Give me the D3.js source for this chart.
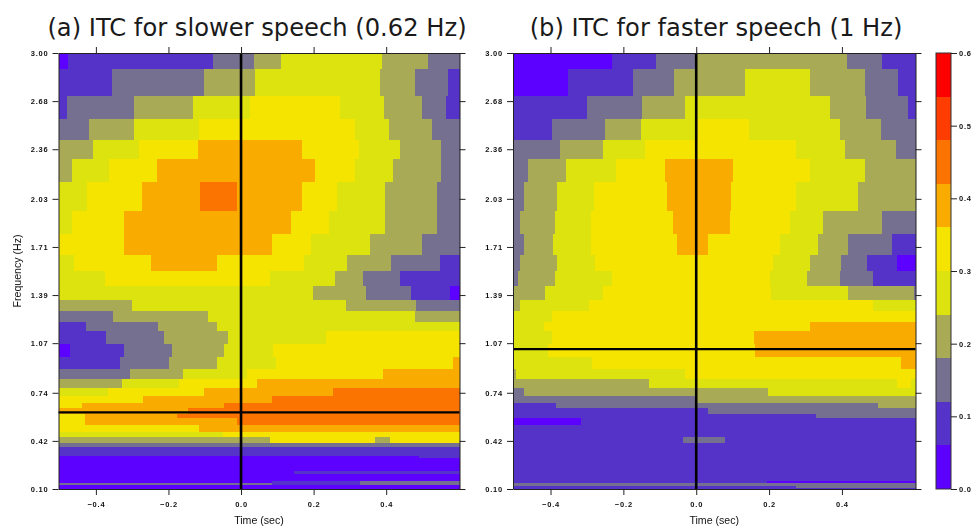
<!DOCTYPE html>
<html>
<head>
<meta charset="utf-8">
<script src="https://cdn.jsdelivr.net/npm/d3@7"></script>
<style>
  html, body { margin: 0; padding: 0; background: #fff; overflow: hidden; }
  .title { font-family: "DejaVu Sans", sans-serif; font-size: 24.2px; fill: #1a1a1a; }
  .axisText { font-family: "Liberation Sans", sans-serif; font-size: 10.6px; fill: #111; }
  .tick text { font-family: "Liberation Sans", sans-serif; font-size: 7.5px; letter-spacing: 0.8px; fill: #111; font-weight: bold; }
  .tick line, .domain { stroke: #222; }
</style>
</head>
<body>
<div id="my_dataviz"></div>
<script>
// ITC bin colours, lowest to highest
const binColors = ["#5c00ff", "#5533c8", "#75708f", "#a8aa55", "#dce30f", "#f5e400", "#f9ab00", "#fb7300", "#ff3d00", "#ff0000"];
const freqTicks = [3.00, 2.68, 2.36, 2.03, 1.71, 1.39, 1.07, 0.74, 0.42, 0.10];
const timeTicks = [-0.4, -0.2, 0, 0.2, 0.4];
const itcTicks = [0, 0.1, 0.2, 0.3, 0.4, 0.5, 0.6];

// Left panel: frequency band edges (Hz), time breaks inside each band (sec), ITC level of each piece
const freqEdgesA = [3.00, 2.896, 2.714, 2.559, 2.422, 2.296, 2.141, 1.948, 1.795, 1.658, 1.549, 1.450, 1.357, 1.284, 1.213, 1.149, 1.064, 0.976, 0.896, 0.830, 0.774, 0.719, 0.672, 0.637, 0.602, 0.573, 0.528, 0.480, 0.444, 0.409, 0.382, 0.320, 0.303, 0.218, 0.201, 0.152, 0.141, 0.125, 0.10];
const timeBreaksA = [
  [-0.476, -0.078, 0.036, 0.110, 0.389, 0.514],
  [-0.356, -0.101, 0.039, 0.382, 0.480, 0.570],
  [-0.480, -0.296, -0.131, 0.024, 0.272, 0.393, 0.498, 0.566],
  [-0.420, -0.296, -0.115, 0.314, 0.408, 0.525],
  [-0.409, -0.281, -0.119, 0.167, 0.325, 0.438, 0.551],
  [-0.465, -0.363, -0.232, 0.204, 0.314, 0.420, 0.551],
  [-0.424, -0.273, -0.112, -0.010, 0.167, 0.265, 0.397, 0.540],
  [-0.465, -0.322, 0.137, 0.243, 0.397, 0.540],
  [-0.322, 0.084, 0.193, 0.354, 0.498],
  [-0.460, -0.247, -0.066, 0.174, 0.291, 0.412, 0.547],
  [-0.374, 0.081, 0.258, 0.337, 0.438],
  [0.197, 0.344, 0.468, 0.577],
  [-0.300, 0.289, 0.483],
  [-0.352, -0.092, 0.480],
  [-0.428, -0.228, -0.066],
  [-0.371, -0.212, -0.037, 0.235],
  [-0.470, -0.322, -0.190, -0.047, 0.088],
  [-0.333, -0.198, -0.067, 0.095, 0.584],
  [-0.307, -0.160, 0.016, 0.392],
  [-0.327, -0.172, 0.043],
  [-0.367, -0.103, 0.254],
  [-0.269, 0.084],
  [-0.438, -0.047],
  [-0.146],
  [-0.431, -0.177],
  [-0.431, -0.010],
  [-0.115],
  [-0.050],
  [0.081, 0.370, 0.411],
  [],
  [],
  [0.491],
  [],
  [0.147],
  [],
  [0.085, 0.329],
  [0.085, 0.329],
  []
];
const levelsA = [
  [.03, .09, .15, .21, .27, .21, .15],
  [.09, .15, .21, .27, .21, .15, .09],
  [.09, .15, .21, .27, .33, .27, .21, .15, .09],
  [.15, .21, .27, .33, .27, .21, .15],
  [.21, .27, .33, .39, .33, .27, .21, .15],
  [.21, .27, .33, .39, .33, .27, .21, .15],
  [.27, .33, .39, .45, .39, .33, .27, .21, .15],
  [.27, .33, .39, .33, .27, .21, .15],
  [.33, .39, .33, .27, .21, .15],
  [.27, .33, .39, .33, .27, .21, .15, .09],
  [.27, .33, .27, .21, .15, .09],
  [.27, .21, .15, .09, .03],
  [.21, .27, .21, .15],
  [.15, .21, .27, .21],
  [.09, .15, .21, .27],
  [.09, .15, .21, .27, .33],
  [.03, .09, .15, .21, .27, .33],
  [.09, .15, .21, .27, .33, .39],
  [.15, .21, .27, .33, .39],
  [.21, .27, .33, .39],
  [.27, .33, .39, .45],
  [.33, .39, .45],
  [.33, .39, .45],
  [.39, .45],
  [.33, .39, .45],
  [.33, .39, .45],
  [.33, .39],
  [.27, .33],
  [.21, .33, .21, .33],
  [.15],
  [.09],
  [.03, .09],
  [.03],
  [.03, .09],
  [.03],
  [.03, .09, .15],
  [.15, .09, .15],
  [.03]
];

// Right panel
const freqEdgesB = [3.00, 2.896, 2.714, 2.559, 2.422, 2.296, 2.141, 1.948, 1.795, 1.658, 1.549, 1.450, 1.357, 1.284, 1.213, 1.149, 1.064, 0.976, 0.896, 0.830, 0.774, 0.719, 0.672, 0.637, 0.602, 0.573, 0.528, 0.444, 0.409, 0.152, 0.143, 0.121, 0.108, 0.10];
const timeBreaksB = [
  [-0.231, -0.110, 0, 0.413, 0.510],
  [-0.353, -0.174, -0.061, 0.135, 0.311, 0.462, 0.553],
  [-0.299, -0.148, -0.032, 0.367, 0.466, 0.582],
  [-0.397, -0.250, -0.151, 0.004, 0.146, 0.394, 0.507],
  [-0.374, -0.256, -0.140, 0.274, 0.409, 0.549],
  [-0.461, -0.358, -0.220, -0.087, 0.101, 0.311, 0.462],
  [-0.474, -0.381, -0.282, -0.080, 0.096, 0.274, 0.443],
  [-0.485, -0.388, -0.288, -0.065, 0.092, 0.258, 0.349, 0.510],
  [-0.474, -0.392, -0.288, -0.053, 0.033, 0.229, 0.334, 0.417, 0.538],
  [-0.483, -0.381, -0.277, 0.210, 0.311, 0.398, 0.469, 0.552],
  [-0.490, -0.389, -0.231, 0.202, 0.304, 0.394, 0.485],
  [-0.415, -0.256, 0.206, 0.417, 0.597],
  [-0.483, -0.295, 0.485],
  [-0.396],
  [-0.418, 0.311],
  [-0.396, 0.158],
  [-0.407, 0.161],
  [-0.287, 0.563],
  [-0.495, -0.031],
  [-0.129, 0.551, 0.590],
  [-0.474, 0.198],
  [0],
  [-0.385, 0.499],
  [0.033],
  [0.330],
  [-0.317],
  [],
  [-0.035, 0.078],
  [],
  [0.194],
  [],
  [0.274],
  []
];
const levelsB = [
  [.03, .09, .15, .21, .15, .09],
  [.03, .09, .15, .21, .27, .21, .15, .09],
  [.09, .15, .21, .27, .21, .15, .09],
  [.09, .15, .21, .27, .33, .27, .21, .15],
  [.15, .21, .27, .33, .27, .21, .15],
  [.15, .21, .27, .33, .39, .33, .27, .21],
  [.15, .21, .27, .33, .39, .33, .27, .21],
  [.15, .21, .27, .33, .39, .33, .27, .21, .15],
  [.15, .21, .27, .33, .39, .33, .27, .21, .15, .09],
  [.15, .21, .27, .33, .27, .21, .15, .09, .03],
  [.15, .21, .27, .33, .27, .21, .15, .09],
  [.21, .27, .33, .27, .21, .15],
  [.21, .27, .33, .27],
  [.27, .33],
  [.27, .33, .39],
  [.27, .33, .39],
  [.27, .33, .39],
  [.27, .33, .39],
  [.21, .27, .33],
  [.21, .27, .33, .27],
  [.15, .21, .27],
  [.15, .21],
  [.09, .15, .21],
  [.09, .15],
  [.09, .15],
  [.03, .09],
  [.09],
  [.09, .15, .09],
  [.09],
  [.09, .03],
  [.15],
  [.09, .15],
  [.09]
];

const lineFreqA = 0.61;
const lineFreqB = 1.03;

const svg = d3.select("#my_dataviz")
    .append("svg")
    .attr("width", 975)
    .attr("height", 529);

const plotTop = 53, plotBottom = 489;
const binColor = d3.scaleQuantize().domain([0, 0.6]).range(binColors);

function drawPanel(left, right, title, titleX, edges, breaks, levels, lineFreq) {
    const x = d3.scaleLinear().domain([-0.503, 0.602]).range([left, right]).clamp(true);
    const y = d3.scaleLinear().domain([0.10, 3.00]).range([plotBottom, plotTop]);

    const cells = [];
    levels.forEach((row, i) => {
        const stops = [-0.503, ...breaks[i], 0.602];
        row.forEach((level, j) => {
            cells.push({ t0: stops[j], t1: stops[j + 1], f0: edges[i], f1: edges[i + 1], level: level });
        });
    });

    const plot = svg.append("g").style("filter", "blur(0.45px)");

    plot.selectAll("rect")
        .data(cells)
        .join("rect")
        .attr("x", d => x(d.t0))
        .attr("y", d => y(d.f0))
        .attr("width", d => x(d.t1) - x(d.t0))
        .attr("height", d => y(d.f1) - y(d.f0))
        .attr("shape-rendering", "crispEdges")
        .attr("fill", d => binColor(d.level));

    // reference lines at stimulus onset and speech rate
    plot.append("line")
        .attr("x1", x(0)).attr("x2", x(0))
        .attr("y1", plotTop).attr("y2", plotBottom)
        .attr("stroke", "#000").attr("stroke-width", 2.6);
    plot.append("line")
        .attr("x1", left).attr("x2", right)
        .attr("y1", y(lineFreq)).attr("y2", y(lineFreq))
        .attr("stroke", "#000").attr("stroke-width", 2.2);

    const axes = svg.append("g").style("filter", "blur(0.35px)");

    axes.append("g")
        .attr("transform", "translate(0," + plotBottom + ")")
        .call(d3.axisBottom(x).tickValues(timeTicks).tickFormat(d3.format(".1f")).tickSize(6).tickSizeOuter(0).tickPadding(7));
    axes.append("g")
        .attr("transform", "translate(0," + plotTop + ")")
        .call(d3.axisTop(x).tickValues(timeTicks).tickFormat("").tickSize(6).tickSizeOuter(0));
    axes.append("g")
        .attr("transform", "translate(" + left + ",0)")
        .call(d3.axisLeft(y).tickValues(freqTicks).tickFormat(d3.format(".2f")).tickSize(6).tickSizeOuter(0).tickPadding(4));
    axes.append("g")
        .attr("transform", "translate(" + right + ",0)")
        .call(d3.axisRight(y).tickValues(freqTicks).tickFormat("").tickSize(6).tickSizeOuter(0));

    axes.append("text")
        .attr("class", "axisText")
        .attr("x", (left + right) / 2)
        .attr("y", 524)
        .style("text-anchor", "middle")
        .text("Time (sec)");

    svg.append("text")
        .attr("class", "title")
        .attr("x", titleX)
        .attr("y", 36)
        .style("text-anchor", "middle")
        .text(title);
}

drawPanel(58.5, 459.5, "(a)  ITC for slower speech (0.62 Hz)", 257, freqEdgesA, timeBreaksA, levelsA, lineFreqA);
drawPanel(513, 915.5, "(b)  ITC for faster speech (1 Hz)", 716, freqEdgesB, timeBreaksB, levelsB, lineFreqB);

svg.append("text")
    .attr("class", "axisText")
    .attr("transform", "translate(21,271) rotate(-90)")
    .style("text-anchor", "middle")
    .style("filter", "blur(0.35px)")
    .text("Frequency (Hz)");

// colour bar
const barScale = d3.scaleLinear().domain([0, 0.6]).range([plotBottom, plotTop]);
const bar = svg.append("g").style("filter", "blur(0.35px)");
bar.selectAll("rect")
    .data(binColors)
    .join("rect")
    .attr("x", 936)
    .attr("width", 15)
    .attr("y", (d, i) => barScale((i + 1) * 0.06))
    .attr("height", barScale(0) - barScale(0.06))
    .attr("shape-rendering", "crispEdges")
    .attr("fill", d => d);
bar.append("rect")
    .attr("x", 936).attr("y", plotTop)
    .attr("width", 15).attr("height", plotBottom - plotTop)
    .attr("fill", "none").attr("stroke", "#333");
bar.append("g")
    .attr("transform", "translate(951,0)")
    .call(d3.axisRight(barScale).tickValues(itcTicks).tickFormat(d3.format(".1f")).tickSize(6).tickPadding(2))
    .select(".domain").remove();
</script>
</body>
</html>
